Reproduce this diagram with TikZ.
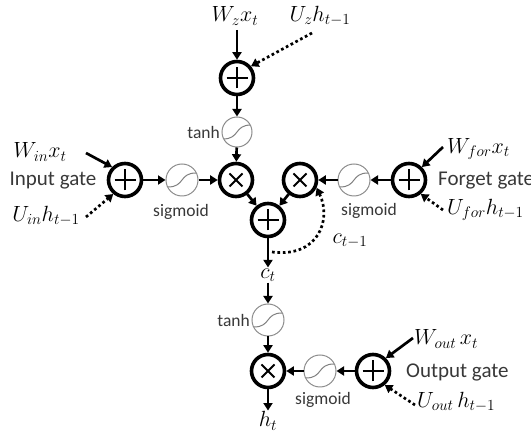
\documentclass[tikz,border=0pt]{standalone}
\usepackage{fix-cm}
\usepackage{fontspec}
\setmainfont{Carlito}
\usetikzlibrary{arrows.meta,calc}
\begin{document}
\begin{tikzpicture}[x=1pt,y=-1pt,
  op/.style={circle,draw=black,line width=3.6pt,minimum size=33pt,inner sep=0pt},
  plusop/.style={op,path picture={\draw[line width=2pt]
      ($(path picture bounding box.center)+(-10.5pt,0)$) -- +(21pt,0)
      ($(path picture bounding box.center)+(0,-10.5pt)$) -- +(0,21pt);}},
  timesop/.style={op,path picture={\draw[line width=2pt]
      ($(path picture bounding box.center)+(-6.5pt,-6.5pt)$) -- +(13pt,13pt)
      ($(path picture bounding box.center)+(-6.5pt,6.5pt)$) -- +(13pt,-13pt);}},
  act/.style={circle,draw=black!45,line width=1pt,minimum size=32pt,inner sep=0pt,
    path picture={\draw[black!50,line width=1pt]
      ($(path picture bounding box.center)+(-14pt,-7pt)$) .. controls +(17pt,0pt) and +(-17pt,0pt) .. ($(path picture bounding box.center)+(14pt,7pt)$);}},
  arr/.style={line width=2.7pt,-{Triangle[length=7.5pt,width=9pt]}},
  darr/.style={arr,dash pattern=on 2.7pt off 2.7pt},
  mlbl/.style={font=\fontsize{22}{26}\selectfont,inner sep=1pt},
  glbl/.style={font=\fontsize{21}{24}\selectfont,text=black!78,inner sep=1pt},
  slbl/.style={font=\fontsize{17.5}{20}\selectfont,text=black!78,inner sep=1pt}
]
\useasboundingbox (0,0) rectangle (531,435);

% operator nodes
\node[plusop] (p0) at (237,78) {};
\node[act,minimum size=30pt] (t1) at (237,132) {};
\node[plusop] (pin) at (125,180) {};
\node[act] (s1) at (182,180) {};
\node[timesop] (x1) at (236,180) {};
\node[timesop] (x2) at (300,180) {};
\node[act] (s2) at (354,180) {};
\node[plusop] (pf) at (409,180) {};
\node[plusop] (ps) at (268,220) {};
\node[act] (t2) at (268,320) {};
\node[timesop] (xo) at (268,371) {};
\node[act] (s3) at (320,371) {};
\node[plusop] (po) at (373,371) {};

% labels
\node[mlbl] (wz) at (235,16) {$W_z x_t$};
\node[mlbl] (uz) at (320,16) {$U_z h_{t-1}$};
\node[mlbl] (win) at (40,152) {$W_{in}x_t$};
\node[glbl] (ig) at (53,181) {Input gate};
\node[mlbl] (uin) at (46,216) {$U_{in}h_{t-1}$};
\node[mlbl,anchor=west] (wf) at (446,149) {$W_{for}x_t$};
\node[glbl,anchor=west] (fg) at (437,181) {Forget gate};
\node[mlbl,anchor=west] (uf) at (446,210) {$U_{for}h_{t-1}$};
\node[mlbl] (cprev) at (350,241) {$c_{t-1}$};
\node[mlbl] (ct) at (268,275) {$c_t$};
\node[mlbl] (ht) at (268,421) {$h_t$};
\node[mlbl,anchor=west] (wo) at (413,339) {$W_{out}\,x_t$};
\node[glbl,anchor=west] (og) at (405,372) {Output gate};
\node[mlbl,anchor=west] (uo) at (416,402) {$U_{out}\,h_{t-1}$};
\node[slbl,anchor=east] (tl1) at (221,132) {tanh};
\node[slbl,anchor=east] (tl2) at (251,320) {tanh};
\node[slbl] (sl1) at (181,212) {sigmoid};
\node[slbl] (sl2) at (369,211) {sigmoid};
\node[slbl] (sl3) at (323,400) {sigmoid};

% free ends of input arrows
\coordinate (wzs) at (237,30);
\coordinate (uzs) at (312,33);
\coordinate (wins) at (86,153);
\coordinate (uins) at (86,217);
\coordinate (wfs) at (443,147);
\coordinate (ufs) at (443,210);
\coordinate (wos) at (413,338);
\coordinate (uos) at (415,405);
\coordinate (cs) at (272,252);

% connectors
\draw[arr] (wzs) -- (p0);
\draw[darr] (uzs) -- (p0.40);
\draw[arr] (p0) -- (t1);
\draw[arr] (t1) -- (x1);
\draw[arr] (wins) -- (pin.135);
\draw[darr] (uins) -- (pin.-130);
\draw[arr] (pin) -- (s1);
\draw[arr] (s1) -- (x1);
\draw[arr] (x1) -- (ps);
\draw[arr] (x2) -- (ps);
\draw[arr] (wfs) -- (pf.45);
\draw[darr] (ufs) -- (pf.-50);
\draw[arr] (pf) -- (s2);
\draw[arr] (s2) -- (x2);
\draw[darr] (cs) .. controls (318,258) and (332,220) .. (x2.-25);
\draw[arr] (ps) -- (ct);
\draw[arr] (ct) -- (t2);
\draw[arr] (t2) -- (xo);
\draw[arr] (xo) -- (ht);
\draw[arr] (wos) -- (po.45);
\draw[darr] (uos) -- (po.-50);
\draw[arr] (po) -- (s3);
\draw[arr] (s3) -- (xo);
\end{tikzpicture}
\end{document}
